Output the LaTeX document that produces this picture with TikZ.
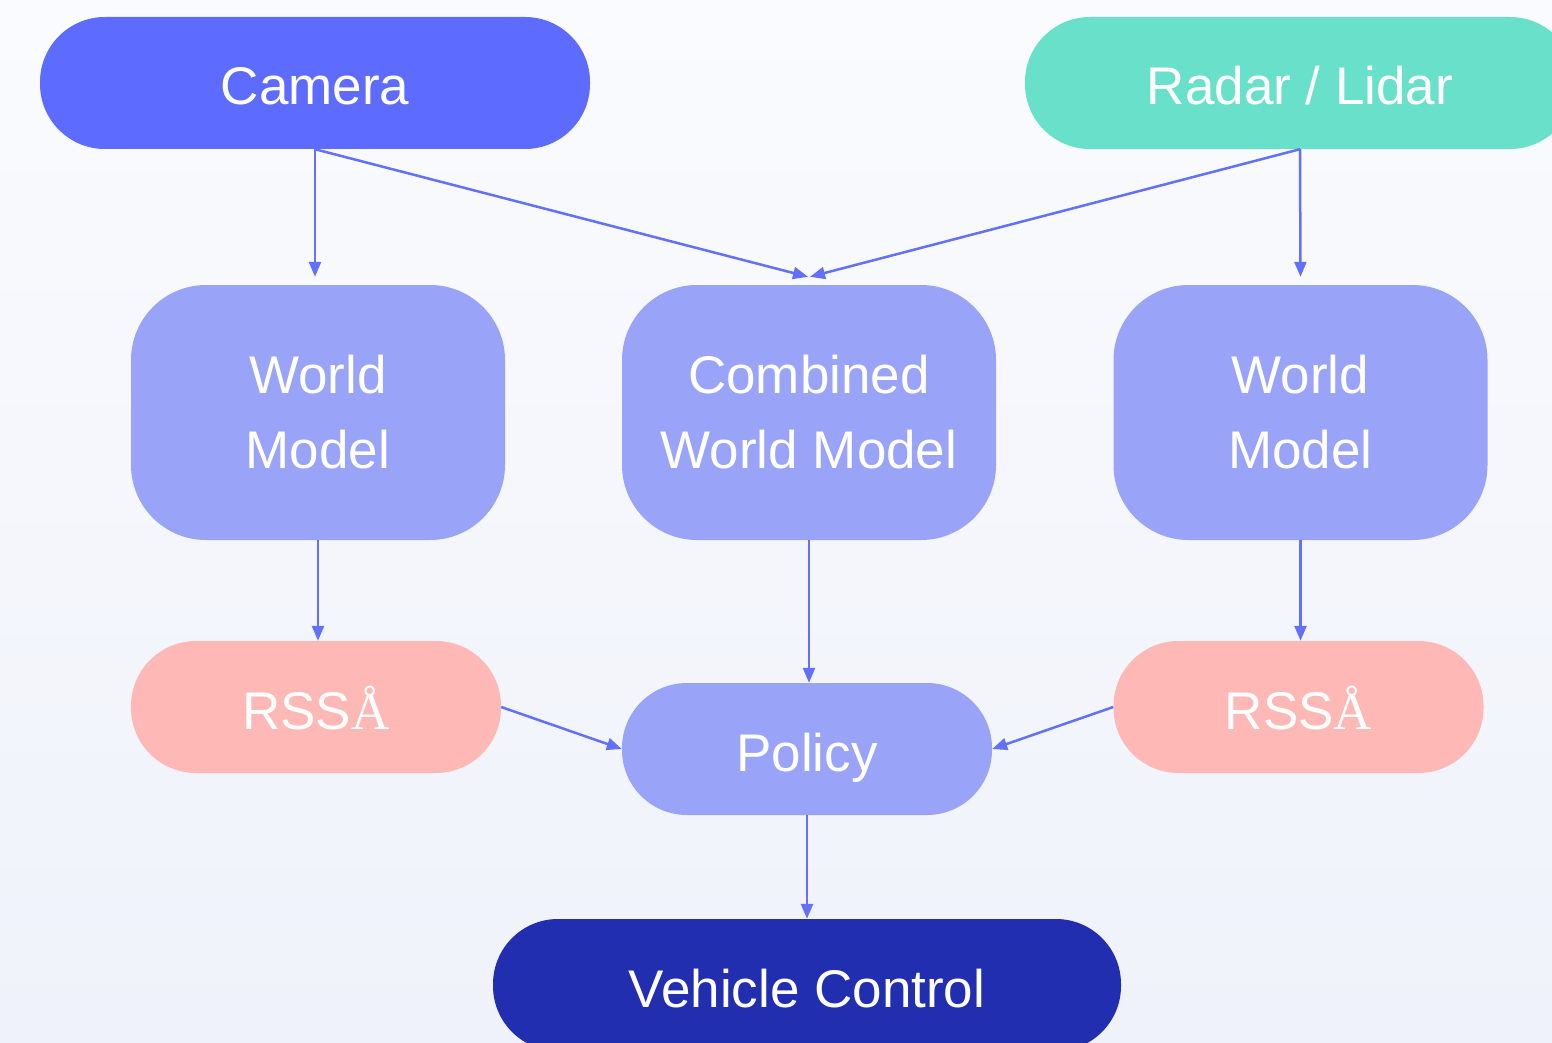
\documentclass[tikz,border=0pt]{standalone}
\usepackage{fontspec}
\setmainfont{Liberation Sans}
\newfontfamily\serifA{Liberation Serif}
\usetikzlibrary{arrows.meta}
\definecolor{camc}{HTML}{5E6BFF}
\definecolor{radc}{HTML}{69E0CA}
\definecolor{wmc}{HTML}{99A3F8}
\definecolor{rssc}{HTML}{FEB8B5}
\definecolor{vcc}{HTML}{222EB0}
\definecolor{arrc}{HTML}{6270FA}
\definecolor{bgtop}{HTML}{FAFBFE}
\definecolor{bgbot}{HTML}{EFF2FA}
\tikzset{
  pill/.style={rectangle, rounded corners=65pt, minimum height=132pt, inner sep=0pt, text height=44pt, text depth=0pt, text=white, font=\fontsize{53}{64}\selectfont},
  wmbox/.style={rectangle, rounded corners=75pt, minimum width=374pt, minimum height=255pt, inner sep=0pt, fill=wmc, text=white, align=center, font=\fontsize{53}{75}\selectfont},
  conn/.style={draw=arrc, line width=2.5pt, -{Triangle[length=15pt,width=12pt]}}
}
\begin{document}
\begin{tikzpicture}[x=1pt,y=-1pt]
\useasboundingbox (0,0) rectangle (1552,1043);
\clip (0,0) rectangle (1552,1043);
\shade[top color=bgtop, bottom color=bgbot] (0,0) rectangle (1552,1043);
\node[pill, fill=camc, minimum width=550pt] (cam) at (315,83) {Camera};
\node[pill, fill=radc, minimum width=550pt] (rad) at (1300,83) {Radar / Lidar};
\node[wmbox] (wml) at (318,412.5) {World\\Model};
\node[wmbox] (cwm) at (809,412.5) {Combined\\World Model};
\node[wmbox] (wmr) at (1300.5,412.5) {World\\Model};
\node[pill, fill=rssc, minimum width=370pt] (rssl) at (316,707) {RSS{\serifA Å}};
\node[pill, fill=rssc, minimum width=370pt] (rssr) at (1298.5,707) {RSS{\serifA Å}};
\node[pill, fill=wmc, minimum width=370pt] (pol) at (807,749) {Policy};
\node[pill, fill=vcc, minimum width=628pt] (vc) at (807,985) {Vehicle Control};
\coordinate (cin) at ([yshift=8pt]cwm.north);
\draw[conn, shorten >=8pt] (cam.south) -- (cam.south |- wml.north);
\draw[conn] (cam.south) -- ([xshift=-1pt]cin);
\draw[conn] (rad.south) -- ([xshift=1pt]cin);
\draw[conn, shorten >=8pt] (rad.south) -- (wmr.north);
\draw[conn] (wml.south) -- (wml.south |- rssl.north);
\draw[conn] (cwm.south) -- (cwm.south |- pol.north);
\draw[conn] (wmr.south) -- (wmr.south |- rssr.north);
\draw[conn] (rssl.east) -- (pol.west);
\draw[conn] (rssr.west) -- (pol.east);
\draw[conn] (pol.south) -- (vc.north);
\end{tikzpicture}
\end{document}
